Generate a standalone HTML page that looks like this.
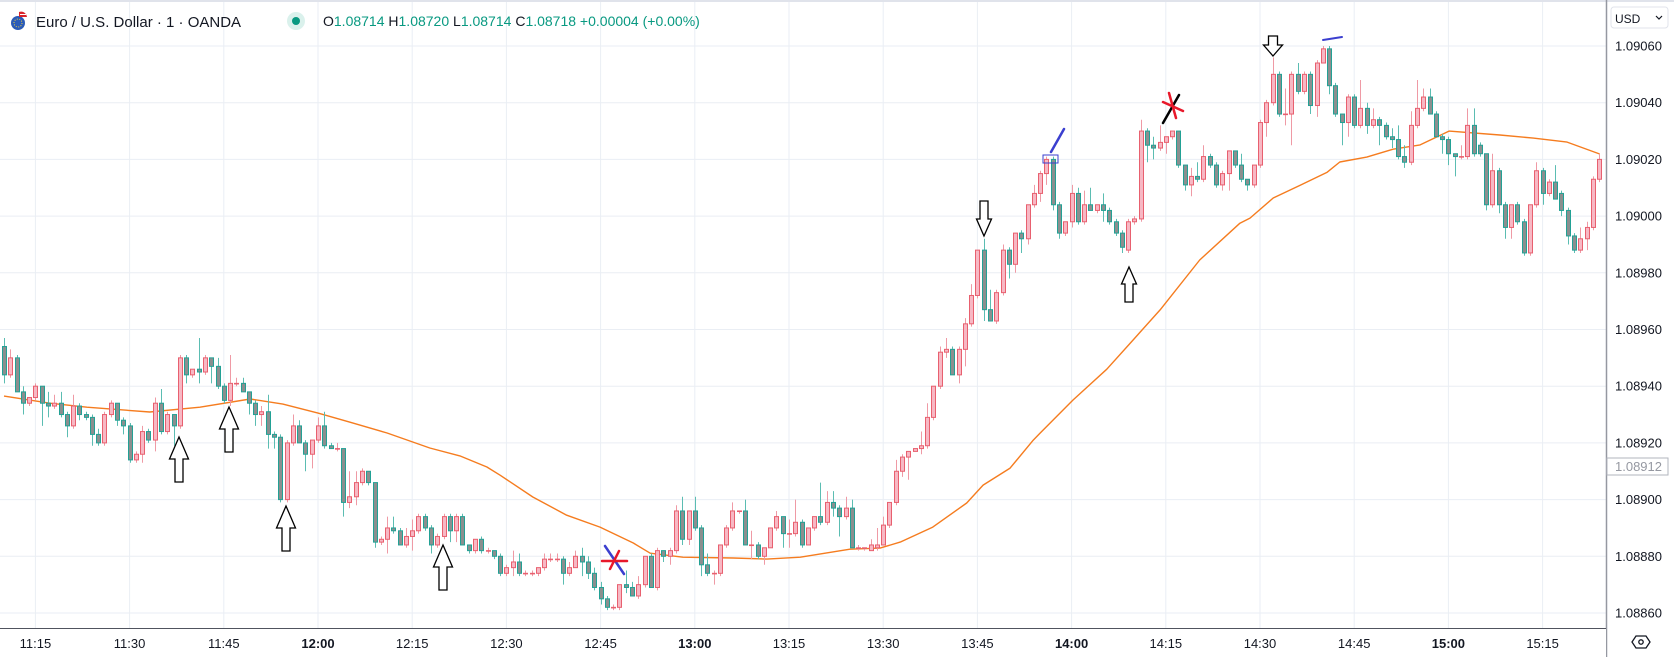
<!DOCTYPE html>
<html><head><meta charset="utf-8"><title>EURUSD 1m</title>
<style>
html,body{margin:0;padding:0;background:#fff;}
body{width:1674px;height:657px;overflow:hidden;position:relative;font-family:"Liberation Sans",sans-serif;}
svg{position:absolute;left:0;top:0;}
text{font-family:"Liberation Sans",sans-serif;}
</style></head>
<body>
<svg id="chart" width="1674" height="657" viewBox="0 0 1674 657" xmlns="http://www.w3.org/2000/svg">
  <rect x="0" y="0" width="1674" height="657" fill="#ffffff"/>
  <rect x="0" y="0" width="1674" height="2" fill="#e0e3eb"/>
  <g id="grid"></g>
  <g id="ema"></g>
  <g id="candles"></g>
  <g id="annotations"></g>
  <g>
    <rect x="1607" y="2" width="67" height="626" fill="#ffffff"/>
    <line x1="1606.5" y1="0" x2="1606.5" y2="657" stroke="#9598a1" stroke-width="1.5"/>
    <g id="yticks"></g>
    <rect x="1607" y="458" width="61" height="17" fill="#ffffff" stroke="#b2b5be" stroke-width="1"/>
    <text x="1615" y="471" font-size="13" fill="#9598a1">1.08912</text>
  </g>
  <g>
    <rect x="0" y="628" width="1606" height="29" fill="#ffffff"/>
    <line x1="0" y1="628.5" x2="1606" y2="628.5" stroke="#50535e" stroke-width="1"/>
    <g id="xticks"></g>
  </g>
  <g>
    <rect x="1611" y="7" width="57" height="21" rx="3" fill="#ffffff" stroke="#e0e3eb"/>
    <text x="1615" y="23" font-size="12" fill="#131722">USD</text>
    <path d="M1656 16 l3 3 l3 -3" fill="none" stroke="#131722" stroke-width="1.2"/>
  </g>
  <g>
    <path d="M1632 642 l4 -6 h10 l4 6 l-4 6 h-10 z" fill="none" stroke="#131722" stroke-width="1.3"/>
    <circle cx="1641" cy="642" r="2.2" fill="none" stroke="#131722" stroke-width="1.3"/>
  </g>
  <g>
    <g>
      <circle cx="18" cy="23" r="7" fill="#2a5bb8"/>
      <circle cx="18" cy="23" r="4" fill="none" stroke="#f5d23c" stroke-width="1" stroke-dasharray="1 1.5"/>
      <path d="M19 12 a6 6 0 0 1 8 5 h-8 z" fill="#d8232a"/>
      <path d="M20 14.5 h6" stroke="#ffffff" stroke-width="1"/>
    </g>
    <text x="36" y="27" font-size="15" fill="#131722">Euro / U.S. Dollar · 1 · OANDA</text>
    <circle cx="296" cy="21" r="9" fill="#daf1ec"/>
    <circle cx="296" cy="21" r="4" fill="#089981"/>
    <text x="323" y="26" font-size="14" fill="#089981"><tspan fill="#131722">O</tspan>1.08714 <tspan fill="#131722">H</tspan>1.08720 <tspan fill="#131722">L</tspan>1.08714 <tspan fill="#131722">C</tspan>1.08718 +0.00004 (+0.00%)</text>
  </g>
</svg>
<script>
// prices in pipettes above 1.08000 (e.g. 936 => 1.08936); one candle per minute from 11:10
const startMinute = 11*60+10;
const opens = [954,944,950,938,934,936,940,934,933,934,930,926,933,930,929,923,920,930,934,928,926,914,916,924,921,934,924,930,926,950,
944,946,945,950,947,940,935,941,941,938,934,930,931,923,922,900,920,926,920,916,921,926,919,918,918,899,901,906,910,906,
885,886,890,889,884,887,889,894,890,884,887,894,889,894,884,882,886,882,882,880,874,876,878,874,874,874,876,879,879,879,
874,876,880,878,874,869,865,862,862,870,869,866,870,880,869,882,880,882,896,886,896,890,877,874,874,884,890,896,896,884,
884,880,883,890,894,888,888,892,884,890,894,892,899,897,894,897,883,883,882,883,884,891,899,910,915,917,918,919,929,940,
952,953,944,953,962,972,988,967,963,973,988,983,994,992,1004,1008,1015,1020,1004,994,998,1008,998,1004,1002,1004,1002,998,994,988,
998,999,1030,1025,1024,1026,1028,1030,1018,1011,1014,1013,1021,1018,1011,1015,1023,1018,1013,1011,1018,1033,1040,1050,1036,1036,1050,1044,1050,1039,
1054,1059,1046,1036,1033,1042,1032,1038,1032,1034,1032,1028,1027,1021,1019,1032,1038,1042,1036,1028,1027,1022,1021,1021,1032,1025,1022,1004,1016,1004,
996,1004,998,987,1004,1016,1008,1012,1008,1002,993,988,992,996,1013];
const highs = [957,953,951,940,936,941,940,938,937,938,931,937,934,931,930,925,931,935,934,929,927,917,926,925,936,939,931,930,951,951,
946,957,951,950,950,941,951,943,943,938,935,933,937,924,923,921,930,928,921,921,929,931,920,920,918,910,910,911,910,906,
887,894,894,890,890,893,895,895,891,888,895,895,895,895,884,886,887,883,882,881,877,882,881,875,875,876,881,881,881,880,
878,882,883,880,876,871,866,863,870,875,871,873,880,881,883,882,883,898,901,896,901,891,881,875,884,891,899,896,900,889,
885,883,889,896,894,893,900,893,885,894,906,903,903,898,901,900,884,883,886,890,894,899,914,916,917,918,924,934,940,954,
957,954,954,964,976,988,992,974,974,990,989,994,995,1004,1011,1016,1021,1021,1005,998,1011,1010,1009,1010,1004,1008,1003,999,995,999,
1000,1034,1031,1028,1032,1028,1030,1030,1018,1017,1019,1025,1022,1019,1016,1023,1023,1022,1013,1018,1034,1041,1056,1051,1045,1051,1054,1051,1051,1055,
1060,1060,1047,1036,1043,1043,1048,1040,1038,1035,1033,1031,1032,1025,1037,1048,1045,1045,1037,1029,1028,1022,1025,1038,1038,1026,1022,1022,1017,1005,
1004,1005,999,1004,1019,1017,1013,1018,1009,1003,994,996,998,1014,1022];
const lows = [941,943,938,930,933,935,926,929,932,929,922,925,928,928,919,919,919,929,926,923,913,913,913,920,917,923,923,919,925,941,
943,941,944,941,939,934,933,940,938,930,926,926,918,918,899,899,919,920,910,911,920,918,918,917,894,897,898,905,905,883,
884,881,888,884,883,882,888,889,881,883,886,885,885,884,881,881,881,881,879,873,873,873,873,873,873,873,875,878,878,870,
873,876,873,872,868,863,861,861,861,867,866,865,869,869,868,878,877,881,884,884,889,873,873,870,873,883,889,895,884,879,
879,877,883,889,883,883,887,883,884,889,891,891,894,887,893,883,882,882,882,882,884,890,898,908,907,917,916,918,928,939,
950,944,941,947,961,971,963,963,962,972,978,980,987,990,1003,1005,1011,1002,992,993,996,997,997,1002,1001,998,997,993,987,987,
997,998,1019,1020,1023,1022,1027,1017,1009,1007,1012,1012,1017,1010,1009,1009,1017,1012,1009,1010,1017,1028,1039,1035,1032,1025,1043,1043,1036,1035,
1054,1043,1035,1025,1028,1031,1031,1029,1031,1025,1027,1024,1020,1017,1018,1031,1037,1036,1028,1022,1018,1014,1020,1020,1021,1021,1002,1003,1001,992,
992,997,986,986,1003,1004,1007,1006,1000,990,987,987,988,995,1012];
const closes = [944,950,938,934,936,940,934,933,934,930,926,933,930,929,923,920,930,934,928,926,914,916,924,921,934,924,930,926,950,944,
946,945,950,947,940,935,941,941,938,934,930,931,923,922,900,920,926,920,916,921,926,919,918,918,899,901,906,910,906,885,
886,890,889,884,887,889,894,890,884,887,894,889,894,884,882,886,882,882,880,874,876,878,874,874,874,876,879,879,879,874,
876,880,878,874,869,865,862,862,870,869,866,870,880,869,882,880,882,896,886,896,890,877,874,874,884,890,896,896,884,884,
880,883,890,894,888,888,892,884,890,894,892,899,897,894,897,883,883,883,884,884,891,899,910,915,917,918,919,929,940,952,
953,944,953,962,972,988,967,963,973,988,983,994,992,1004,1008,1015,1020,1004,994,998,1008,998,1004,1002,1004,1002,998,994,989,998,
999,1030,1025,1024,1026,1028,1030,1018,1011,1014,1013,1021,1018,1011,1015,1023,1018,1013,1011,1018,1033,1040,1050,1036,1036,1050,1044,1050,1039,1054,
1059,1046,1036,1033,1042,1032,1038,1032,1034,1032,1028,1027,1021,1019,1032,1038,1042,1036,1028,1027,1022,1021,1021,1032,1022,1022,1004,1016,1004,996,
1004,998,987,1004,1016,1008,1012,1006,1002,993,988,992,996,1013,1020];
// moving average samples: candle index -> value (pipettes above 1.08000)
const emaIdx = [0,7.3,13.2,23.2,31.2,39.2,44.4,50,55.1,61,67.8,72.6,76.9,79,84.2,89.6,94.9,100.2,102.9,108.1,116.1,121.5,126.8,134.7,139.5,142.7,147.9,153.3,155.9,160.2,163.9,165,170.2,175.6,179.8,184.1,190.4,196.8,198.4,202.1,206.4,210.7,212.7,217,221.2,225.5,230.1,238.2,243.5,248.9,254.1];
const emaVal = [936.5,934.0,932.6,930.9,932.6,935.5,933.7,930.5,927.3,923.5,918.2,915.4,911.5,908.6,900.9,894.5,890.3,884.7,881.1,879.7,879.4,879.0,879.7,882.5,882.9,885.0,890.3,898.8,905.1,911.1,921.0,923.5,935.1,946.0,956.3,966.9,984.5,997.5,999.3,1006.4,1010.9,1015.5,1019.1,1020.8,1023.6,1025.1,1030.0,1028.6,1027.5,1026.1,1021.9];
const priceTicks = [860,880,900,920,940,960,980,1000,1020,1040,1060];
const priceTickLabels = ["1.08860","1.08880","1.08900","1.08920","1.08940","1.08960","1.08980","1.09000","1.09020","1.09040","1.09060"];
const timeTickLabels = ["11:15","11:30","11:45","12:00","12:15","12:30","12:45","13:00","13:15","13:30","13:45","14:00","14:15","14:30","14:45","15:00","15:15"];

const NS = "http://www.w3.org/2000/svg";
const PX_PER_BAR = 6.28, X0 = 4;
const PY_TOP = 46, PPX = 2.835, VTOP = 1060;
function xOf(i){ return X0 + i*PX_PER_BAR; }
function yOf(v){ return PY_TOP + (VTOP - v)*PPX; }
function minuteIndex(label){ const p = label.split(":"); return (+p[0])*60 + (+p[1]) - startMinute; }
function mk(tag, attrs, parent){ const e = document.createElementNS(NS, tag); for (const k in attrs) e.setAttribute(k, attrs[k]); parent.appendChild(e); return e; }

const grid = document.getElementById("grid");
priceTicks.forEach(function(v){
  const l = mk("line", {x1:0, x2:1606, y1:yOf(v), y2:yOf(v), stroke:"#eaeef4", "stroke-width":1}, grid);
  
  
});
timeTickLabels.forEach(function(t){
  const x = xOf(minuteIndex(t));
  const l = mk("line", {x1:x, x2:x, y1:2, y2:628, stroke:"#eaeef4", "stroke-width":1}, grid);
  
  
});

const yt = document.getElementById("yticks");
priceTicks.forEach(function(v, k){
  const t = mk("text", {x:1615, y:yOf(v)+4.5, "font-size":13, fill:"#131722"}, yt);
  t.textContent = priceTickLabels[k];
  
  
});
const xt = document.getElementById("xticks");
timeTickLabels.forEach(function(lab){
  const bold = lab.endsWith(":00");
  const t = mk("text", {x:xOf(minuteIndex(lab)), y:648, "font-size":13, fill:"#131722", "text-anchor":"middle", "font-weight": bold ? "bold" : "normal"}, xt);
  t.textContent = lab;
  
  
});

// EMA line
let d = "";
emaIdx.forEach(function(ix, k){ d += (k ? " L" : "M") + xOf(ix).toFixed(1) + " " + yOf(emaVal[k]).toFixed(1); });
const emaPath = mk("path", {d:d, fill:"none", stroke:"#f57c1f", "stroke-width":1.4, "stroke-linejoin":"round"}, document.getElementById("ema"));



// candles
const cg = document.getElementById("candles");
for (let i = 0; i < opens.length; i++){
  const o = opens[i], h = highs[i], l = lows[i], c = closes[i];
  const up = c >= o;
  const x = Math.round(xOf(i)) + 0.5;
  const g = mk("g", {}, cg);
  
  
  const w = mk("line", {x1:x, x2:x, y1:yOf(Math.max(h,o,c)), y2:yOf(Math.min(l,o,c)), stroke: up ? "#ef9aa5" : "#5bbdb2", "stroke-width":1}, g);
  
  
  const top = yOf(Math.max(o,c)), bot = yOf(Math.min(o,c));
  const b = mk("rect", {x:x-2, y:top, width:4, height:Math.max(bot-top, 0.6), fill: up ? "#f7b8c4" : "#8b8f8f", stroke: up ? "#e8606f" : "#22a195", "stroke-width":1}, g);
  
  
}

// annotations
const ag = document.getElementById("annotations");
function upArrow(cx, ty, h, w, s, hh){
  return [[cx,ty],[cx+w/2,ty+hh],[cx+s/2,ty+hh],[cx+s/2,ty+h],[cx-s/2,ty+h],[cx-s/2,ty+hh],[cx-w/2,ty+hh]].map(p=>p.join(",")).join(" ");
}
function downArrow(cx, ty, h, w, s, hh){
  return [[cx,ty],[cx+w/2,ty-hh],[cx+s/2,ty-hh],[cx+s/2,ty-h],[cx-s/2,ty-h],[cx-s/2,ty-hh],[cx-w/2,ty-hh]].map(p=>p.join(",")).join(" ");
}
[[179,437,45,19,8,22],[229,407,45,19,8,22],[286,506,45,19,8,22],[443,545,45,19,8,22],[1129,267,35,15,8,17]].forEach(function(a){
  const p = mk("polygon", {points:upArrow.apply(null,a), fill:"#ffffff", stroke:"#000000", "stroke-width":1.3}, ag);
  
  
});
[[984,236,35,15,8,17],[1273,56,20,19,9,11]].forEach(function(a){
  const p = mk("polygon", {points:downArrow.apply(null,a), fill:"#ffffff", stroke:"#000000", "stroke-width":1.3}, ag);
  
  
});
function seg(x1,y1,x2,y2,col,wd,name){
  const l = mk("line", {x1:x1,y1:y1,x2:x2,y2:y2,stroke:col,"stroke-width":wd,"stroke-linecap":"round"}, ag);
  
  
}
seg(605,546,624,574,"#3b3fcf",2.5,"blue-drawing-stroke");
seg(602,561,627,561,"#e8182a",2.5,"red-cross-stroke");
seg(610,569,619,551,"#e8182a",2.5,"red-cross-stroke");
seg(1163,123,1179,95,"#000000",2.5,"black-drawing-stroke");
seg(1169,93,1176,118,"#e8182a",2.5,"red-cross-stroke");
seg(1163,102,1183,111,"#e8182a",2.5,"red-cross-stroke");
seg(1051,152,1064,129,"#3b3fcf",2.5,"blue-trend-stroke");
seg(1323,40,1342,37,"#3b3fcf",2,"blue-trend-stroke");
const box = mk("rect", {x:1043, y:155, width:15, height:8, fill:"none", stroke:"#3b3fcf", "stroke-width":1}, ag);


</script>
</body></html>
